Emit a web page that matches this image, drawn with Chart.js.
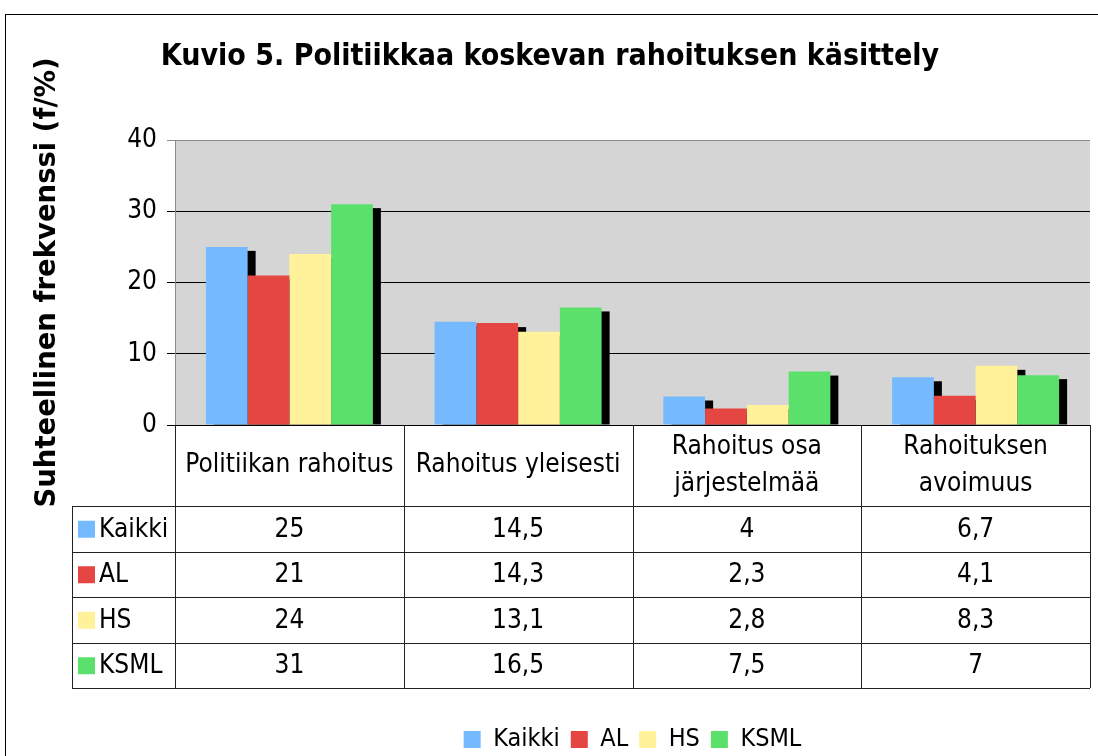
<!DOCTYPE html>
<html>
<head>
<meta charset="utf-8">
<script src="https://cdn.jsdelivr.net/npm/chart.js@4"></script>
<style>
	body { margin: 0; background: #fff; }
</style>
</head>
<body>
<canvas id="grafico" width="1098" height="756"></canvas>
<script>
var FONT = '"DejaVu Sans Condensed", "DejaVu Sans", sans-serif';

// aineisto
var kategoriat = [
	['Politiikan rahoitus'],
	['Rahoitus yleisesti'],
	['Rahoitus osa', 'järjestelmää'],
	['Rahoituksen', 'avoimuus']
];
var sarjat = ['Kaikki', 'AL', 'HS', 'KSML'];
var kaikki = [25, 14.5, 4, 6.7];
var al = [21, 14.3, 2.3, 4.1];
var hs = [24, 13.1, 2.8, 8.3];
var ksml = [31, 16.5, 7.5, 7];
var taulukkoTekstit = [
	['25', '14,5', '4', '6,7'],
	['21', '14,3', '2,3', '4,1'],
	['24', '13,1', '2,8', '8,3'],
	['31', '16,5', '7,5', '7']
];
var yTicks = [0, 10, 20, 30, 40];

var colores = ['#75b9ff', '#e64641', '#fff29b', '#5be16b'];

var data = {
	labels: kategoriat,
	datasets: [
		{ label: sarjat[0], data: kaikki, backgroundColor: colores[0] },
		{ label: sarjat[1], data: al, backgroundColor: colores[1] },
		{ label: sarjat[2], data: hs, backgroundColor: colores[2] },
		{ label: sarjat[3], data: ksml, backgroundColor: colores[3] }
	]
};

var taustaPlugin = {
	id: 'tausta',
	beforeDraw: function (chart) {
		var c = chart.ctx, a = chart.chartArea;
		c.save();
		c.fillStyle = '#fff';
		c.fillRect(0, 0, chart.width, chart.height);
		c.strokeStyle = '#000';
		c.lineWidth = 1;
		c.strokeRect(5.5, 14.5, 1200, 1000);
		c.fillStyle = '#d5d5d5';
		c.fillRect(a.left, a.top, a.right - a.left, a.bottom - a.top);
		c.restore();
	},
	// varjot ensin, palkit niiden päälle
	beforeDatasetsDraw: function (chart) {
		var c = chart.ctx;
		c.save();
		c.fillStyle = '#000';
		chart.data.datasets.forEach(function (ds, i) {
			chart.getDatasetMeta(i).data.forEach(function (bar) {
				var left = bar.x - bar.width / 2;
				var h = bar.base - bar.y - 4;
				if (h > 0) c.fillRect(left + 8, bar.y + 4, bar.width, h);
			});
		});
		c.restore();
	}
};

var taulukkoPlugin = {
	id: 'taulukko',
	afterDraw: function (chart) {
		var c = chart.ctx, a = chart.chartArea;
		var n = kategoriat.length;
		var colW = (a.right - a.left) / n;
		var top = a.bottom;
		var headH = 81;
		var rowH = 45.5;
		var rowsTop = top + headH;
		var bottom = rowsTop + rowH * sarjat.length;
		var leftCol = 72;

		c.save();
		c.strokeStyle = '#222';
		c.lineWidth = 1;
		c.beginPath();
		for (var i = 0; i <= n; i++) {
			var x = Math.round(a.left + colW * i) + 0.5;
			c.moveTo(x, top);
			c.lineTo(x, bottom);
		}
		c.moveTo(leftCol + 0.5, rowsTop);
		c.lineTo(leftCol + 0.5, bottom);
		for (var r = 0; r <= sarjat.length; r++) {
			var y = Math.round(rowsTop + rowH * r) + 0.5;
			c.moveTo(leftCol, y);
			c.lineTo(a.right, y);
		}
		c.stroke();

		c.fillStyle = '#000';
		c.font = '26px ' + FONT;
		c.textAlign = 'center';
		c.textBaseline = 'middle';
		kategoriat.forEach(function (lines, i) {
			var cx = a.left + colW * (i + 0.5);
			var cy = top + headH / 2;
			var lh = 37;
			lines.forEach(function (t, k) {
				c.fillText(t, cx, cy + (k - (lines.length - 1) / 2) * lh);
			});
		});

		sarjat.forEach(function (s, r) {
			var cy = rowsTop + rowH * (r + 0.5);
			c.fillStyle = colores[r];
			c.fillRect(78, cy - 8, 17, 17);
			c.fillStyle = '#000';
			c.textAlign = 'left';
			c.fillText(s, 99, cy + 1);
			c.textAlign = 'center';
			taulukkoTekstit[r].forEach(function (t, i) {
				c.fillText(t, a.left + colW * (i + 0.5), cy + 1);
			});
		});
		c.restore();
	}
};

var contexto = document.getElementById('grafico').getContext('2d');
var grafico = new Chart(contexto, {
	type: 'bar',
	data: data,
	options: {
		responsive: false,
		animation: false,
		layout: { padding: { left: 10, right: 8, top: 0, bottom: -6 } },
		datasets: {
			bar: { categoryPercentage: 0.73, barPercentage: 1.0, borderWidth: 0 }
		},
		scales: {
			x: {
				ticks: { display: false },
				grid: { display: false },
				border: { display: false },
				afterFit: function (scale) { scale.height = 291; }
			},
			y: {
				min: 0,
				max: 40,
				afterBuildTicks: function (scale) {
					scale.ticks = yTicks.map(function (v) { return { value: v }; });
				},
				afterFit: function (scale) { scale.width = 165; },
				ticks: {
					color: '#000',
					font: { family: FONT, size: 26 },
					padding: 10
				},
				grid: {
					color: function (ctx) { return ctx.tick && ctx.tick.value === 40 ? '#8a8a8a' : '#000'; },
					tickLength: 8,
					lineWidth: 1
				},
				border: { color: '#8a8a8a' },
				title: {
					display: true,
					text: 'Suhteellinen frekvenssi (f/%)',
					color: '#000',
					font: { family: '"DejaVu Sans", sans-serif', size: 27.5, weight: 'bold' },
					padding: { top: 21, bottom: 0 }
				}
			}
		},
		plugins: {
			title: {
				display: true,
				text: 'Kuvio 5. Politiikkaa koskevan rahoituksen käsittely',
				color: '#000',
				font: { family: FONT, size: 30, weight: 'bold' },
				padding: { top: 39, bottom: 65 }
			},
			legend: {
				position: 'bottom',
				fullSize: false,
				labels: {
					color: '#000',
					font: { family: FONT, size: 25 },
					boxWidth: 17,
					boxHeight: 17,
					padding: 11
				}
			},
			tooltip: { enabled: false }
		}
	},
	plugins: [taustaPlugin, taulukkoPlugin]
});
</script>
</body>
</html>
